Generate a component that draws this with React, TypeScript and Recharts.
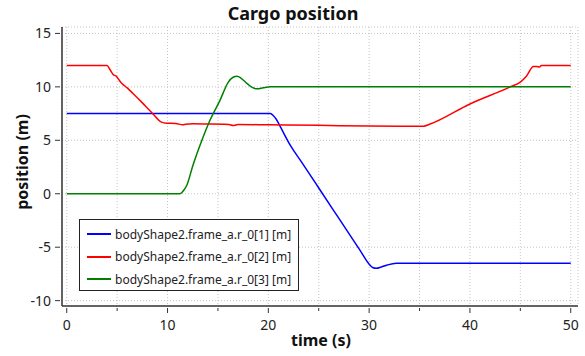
import React from 'react';
import { LineChart, Line, XAxis, YAxis, CartesianGrid, Legend } from 'recharts';

const xTicks = [0, 5, 10, 15, 20, 25, 30, 35, 40, 45, 50];
const yTicks = [-10, -5, 0, 5, 10, 15];

const blueT = [0, 20.2, 20.5, 20.8, 21.2, 22.2, 23.2, 25.1, 27.1, 29.1, 30.1, 30.4, 30.7, 31.2, 31.8, 32.7, 50];
const blueV = [7.5, 7.5, 7.3, 6.95, 6.25, 4.5, 3.1, 0.4, -2.45, -5.3, -6.7, -6.92, -6.97, -6.85, -6.66, -6.5, -6.5];

const redT = [0, 4.0, 4.3, 4.6, 4.9, 5.3, 5.5, 6.0, 6.6, 7.5, 8.4, 9.4, 9.9, 10.8, 11.5, 11.8, 12.5, 14, 15.5, 16.1, 16.5, 17, 20, 25, 30, 33, 35.4, 36, 40, 44, 45, 45.6, 46.3, 46.6, 46.9, 47.1, 50];
const redV = [12, 12, 11.6, 11.16, 11.0, 10.5, 10.29, 9.9, 9.35, 8.5, 7.63, 6.7, 6.6, 6.58, 6.45, 6.5, 6.55, 6.53, 6.5, 6.47, 6.38, 6.48, 6.45, 6.4, 6.33, 6.32, 6.32, 6.5, 8.4, 10.0, 10.45, 11.0, 11.9, 11.9, 11.85, 12.0, 12.0];

const greenT = [0, 11.2, 11.5, 11.9, 12.5, 13.4, 14.2, 15.2, 16.0, 16.5, 16.9, 17.3, 17.9, 18.4, 18.9, 19.5, 20.2, 25, 50];
const greenV = [0, 0, 0.2, 0.77, 2.6, 4.98, 6.85, 8.73, 10.4, 10.9, 11.0, 10.8, 10.3, 9.95, 9.82, 9.92, 10.0, 10.0, 10.0];

const seriesNames = [
  'bodyShape2.frame_a.r_0[1] [m]',
  'bodyShape2.frame_a.r_0[2] [m]',
  'bodyShape2.frame_a.r_0[3] [m]',
];
const seriesColors = ['#0000ff', '#ff0000', '#008000'];

const zip = (t: number[], v: number[]) => t.map((x, i) => ({ t: x, v: v[i] }));
const series = [
  { name: seriesNames[0], color: seriesColors[0], data: zip(blueT, blueV) },
  { name: seriesNames[1], color: seriesColors[1], data: zip(redT, redV) },
  { name: seriesNames[2], color: seriesColors[2], data: zip(greenT, greenV) },
];

const FONT = '"Noto Sans", sans-serif';
const X_DOMAIN: [number, number] = [-0.47, 50.72];
const Y_DOMAIN: [number, number] = [-10.5, 15.6];

const XTick = (props: any) => {
  const { x, y, payload } = props;
  const major = payload.value % 10 === 0;
  return (
    <g>
      <line x1={x} y1={y} x2={x} y2={y + (major ? 5 : 3)} stroke="#333" strokeWidth={1} />
      {major && (
        <text x={x} y={y + 22} textAnchor="middle" fontSize={14} fill="#222" fontFamily={FONT}>
          {payload.value}
        </text>
      )}
    </g>
  );
};

const YTick = (props: any) => {
  const { x, y, payload } = props;
  return (
    <g>
      <line x1={x - 5} y1={y} x2={x} y2={y} stroke="#333" strokeWidth={1} />
      <text x={x - 9} y={y + 5} textAnchor="end" fontSize={14} fill="#222" fontFamily={FONT}>
        {payload.value}
      </text>
    </g>
  );
};

const renderLegend = () => (
  <div
    style={{
      boxSizing: 'border-box',
      width: 220,
      height: 72,
      border: '1px solid #222',
      background: '#fff',
      paddingTop: 3,
      fontFamily: FONT,
    }}
  >
    {series.map((s) => (
      <div key={s.name} style={{ display: 'flex', alignItems: 'center', height: 22.5 }}>
        <div style={{ width: 24, height: 0, borderTop: `2px solid ${s.color}`, marginLeft: 7, marginRight: 4 }} />
        <span style={{ fontSize: 12, color: '#222', whiteSpace: 'nowrap' }}>{s.name}</span>
      </div>
    ))}
  </div>
);

export default function App() {
  return (
    <div style={{ position: 'absolute', left: 0, top: 0, width: 585, height: 356, background: '#fff' }}>
      <LineChart width={585} height={356} margin={{ top: 27, right: 7, left: 0, bottom: 0 }}>
        <CartesianGrid strokeDasharray="1 2" stroke="#c4c4c4" />
        <XAxis
          type="number"
          dataKey="t"
          domain={X_DOMAIN}
          allowDataOverflow
          ticks={xTicks}
          interval={0}
          tickSize={0}
          tickLine={false}
          tick={XTick}
          height={50}
          axisLine={{ stroke: '#333', strokeWidth: 1.5 }}
        />
        <XAxis
          xAxisId="top"
          orientation="top"
          type="number"
          domain={X_DOMAIN}
          allowDataOverflow
          height={0}
          tick={false}
          tickLine={false}
          axisLine={{ stroke: '#c8c8c8' }}
        />
        <YAxis
          type="number"
          domain={Y_DOMAIN}
          allowDataOverflow
          ticks={yTicks}
          interval={0}
          tickSize={0}
          tickLine={false}
          tick={YTick}
          width={62}
          axisLine={{ stroke: '#333', strokeWidth: 1.5 }}
        />
        <YAxis
          yAxisId="right"
          orientation="right"
          type="number"
          domain={Y_DOMAIN}
          allowDataOverflow
          width={0}
          tick={false}
          tickLine={false}
          axisLine={{ stroke: '#c8c8c8' }}
        />
        {series.map((s) => (
          <Line
            key={s.name}
            name={s.name}
            data={s.data}
            dataKey="v"
            type="monotone"
            stroke={s.color}
            strokeWidth={1.5}
            dot={false}
            activeDot={false}
            isAnimationActive={false}
          />
        ))}
        <Legend
          layout="vertical"
          align="center"
          verticalAlign="middle"
          wrapperStyle={{ left: 79, top: 219, width: 220, height: 72 }}
          content={renderLegend}
        />
      </LineChart>
      <svg
        width={585}
        height={356}
        style={{ position: 'absolute', left: 0, top: 0, pointerEvents: 'none' }}
      >
        <text x={293} y={20} textAnchor="middle" fontSize={18} fontWeight="bold" fill="#111" fontFamily={FONT}>
          Cargo position
        </text>
        <text x={321} y={346} textAnchor="middle" fontSize={16} fontWeight="bold" fill="#111" fontFamily={FONT}>
          time (s)
        </text>
        <text
          x={0}
          y={0}
          transform="translate(28,162) rotate(-90)"
          textAnchor="middle"
          fontSize={16}
          fontWeight="bold"
          fill="#111"
          fontFamily={FONT}
        >
          position (m)
        </text>
      </svg>
    </div>
  );
}
